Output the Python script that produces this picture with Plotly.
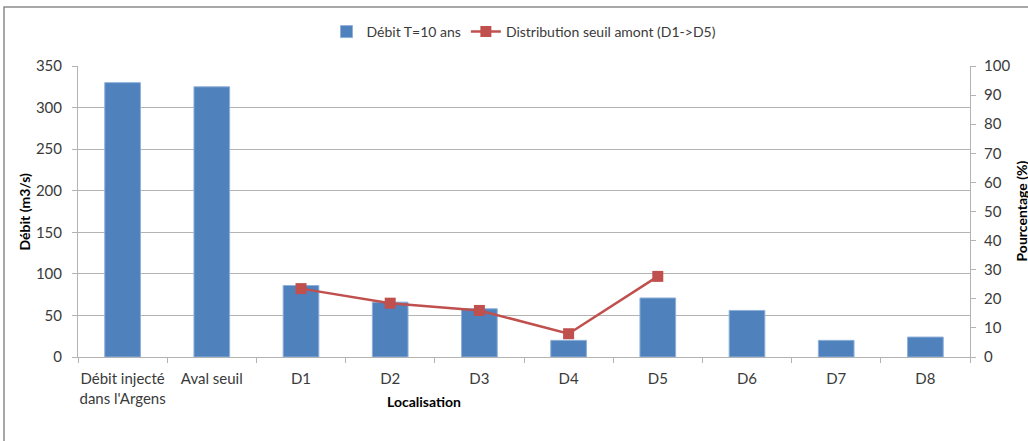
import plotly.graph_objects as go

# Data
categories = ["Débit injecté<br>dans l'Argens", "Aval seuil", "D1", "D2", "D3",
              "D4", "D5", "D6", "D7", "D8"]
debit_t10 = [330, 325, 86, 66, 58, 20, 71, 56, 20, 24]
distrib_categories = ["D1", "D2", "D3", "D4", "D5"]
distrib_pct = [23.5, 18.5, 16, 8, 27.7]

W, H = 1028, 441
L, R, T, B = 78, 58, 66, 84
pw, ph = W - L - R, H - T - B


def px_x(x):
    return (x - L) / pw


def px_y(y):
    return (H - B - y) / ph


FONT = "Lato, Open Sans, sans-serif"
TXT = "#3a3a3a"
GRID = "#b3b3b3"
TICKFONT = dict(size=15, color=TXT)

fig = go.Figure()
fig.add_trace(go.Bar(
    x=categories, y=debit_t10, name="Débit T=10 ans",
    marker=dict(color="#4F81BD", line=dict(color="#8eb0da", width=1)),
    width=0.4, yaxis="y",
))
fig.add_trace(go.Scatter(
    x=distrib_categories, y=distrib_pct, name="Distribution seuil amont (D1->D5)",
    mode="lines+markers",
    line=dict(color="#C0504D", width=2.5),
    marker=dict(symbol="square", size=11, color="#C0504D"),
    yaxis="y2",
))

fig.update_layout(
    width=W, height=H,
    margin=dict(l=L, r=R, t=T, b=B),
    paper_bgcolor="white", plot_bgcolor="white",
    font=dict(family=FONT, size=14, color=TXT),
    showlegend=True,
    legend=dict(orientation="h", x=0.5, xanchor="center", y=px_y(32), yanchor="middle",
                font=dict(size=14, color=TXT), itemwidth=30, traceorder="normal"),
    xaxis=dict(
        type="category", categoryorder="array", categoryarray=categories,
        range=[-0.5, len(categories) - 0.5],
        showline=True, linecolor=GRID, linewidth=1,
        ticks="outside", tickson="boundaries", ticklen=5, tickcolor=GRID,
        showgrid=False, tickfont=TICKFONT, tickangle=0, ticklabelstandoff=8,
    ),
    yaxis=dict(
        range=[0, 350], dtick=50,
        showline=True, linecolor=GRID, linewidth=1,
        ticks="outside", ticklen=5, tickcolor=GRID,
        showgrid=True, gridcolor=GRID, gridwidth=1, zeroline=False,
        tickfont=TICKFONT, ticklabelstandoff=7,
    ),
    yaxis2=dict(
        range=[0, 100], dtick=10, overlaying="y", side="right",
        showline=True, linecolor=GRID, linewidth=1,
        ticks="outside", ticklen=5, tickcolor=GRID,
        showgrid=False, zeroline=False,
        tickfont=TICKFONT, ticklabelstandoff=5,
    ),
    bargap=0.6,
)

# Axis titles
fig.add_annotation(text="<b>Débit (m3/s)</b>", xref="paper", yref="paper",
                   x=px_x(24), y=0.5, xanchor="center", yanchor="middle",
                   textangle=-90, showarrow=False,
                   font=dict(size=14, color="black"))
fig.add_annotation(text="<b>Pourcentage (%)</b>", xref="paper", yref="paper",
                   x=px_x(1021), y=0.5, xanchor="center", yanchor="middle",
                   textangle=-90, showarrow=False,
                   font=dict(size=14, color="black"))
fig.add_annotation(text="<b>Localisation</b>", xref="paper", yref="paper",
                   x=px_x(424), y=px_y(402), xanchor="center", yanchor="middle",
                   showarrow=False,
                   font=dict(size=14, color="black"))

# Chart frame
fig.add_shape(type="rect", xref="paper", yref="paper",
              x0=px_x(4), x1=px_x(1040), y0=px_y(450), y1=px_y(7),
              line=dict(color="#8c8c8c", width=1.5), fillcolor="rgba(0,0,0,0)",
              layer="below")

fig.write_html("out.html")
